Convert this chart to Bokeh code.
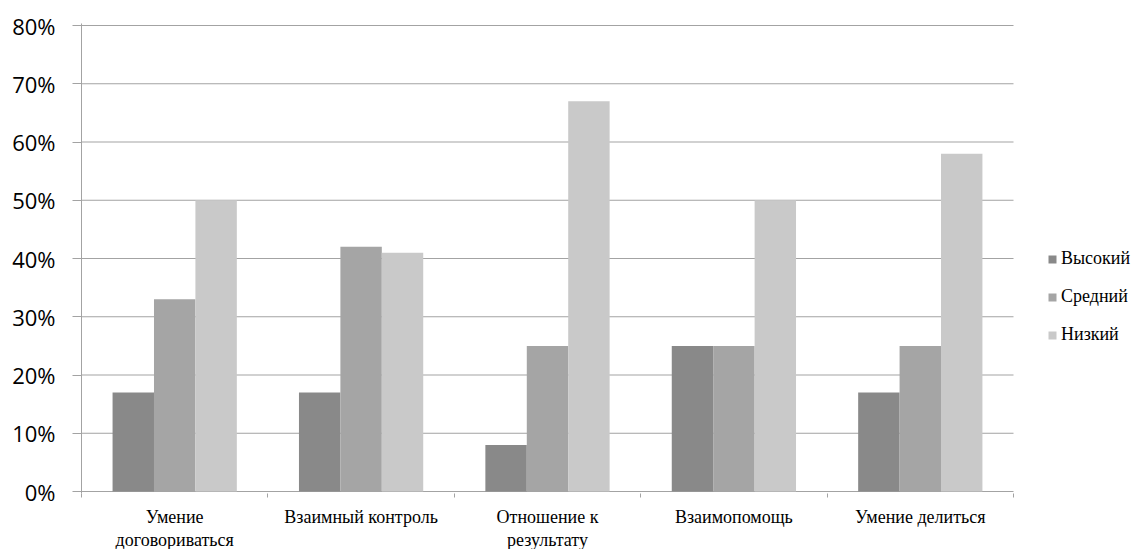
from bokeh.plotting import figure
from bokeh.models import Range1d, FixedTicker, NumeralTickFormatter, Legend, LegendItem, LinearAxis
from bokeh.embed import file_html
from bokeh.resources import INLINE

categories = ["Умение\nдоговориваться", "Взаимный контроль", "Отношение к\nрезультату",
              "Взаимопомощь", "Умение делиться"]
series_names = ["Высокий", "Средний", "Низкий"]
vysokiy = [0.17, 0.17, 0.08, 0.25, 0.17]
sredniy = [0.33, 0.42, 0.25, 0.25, 0.25]
nizkiy = [0.50, 0.41, 0.67, 0.50, 0.58]
y_ticks = [0.0, 0.1, 0.2, 0.3, 0.4, 0.5, 0.6, 0.7, 0.8]

colors = ["#898989", "#a5a5a5", "#c9c9c9"]
grid_color = "#a3a3a3"
SERIF = "Liberation Serif"

N = len(categories)
PLOT_W, PLOT_H = 932, 466          # visible plotting area (axes box)
FRAME_W, FRAME_H = 1058, 470       # bokeh frame (extends right to host legend)
PAD_PX = 2
y_max = y_ticks[-1]
pad = PAD_PX * y_max / PLOT_H

p = figure(frame_width=FRAME_W, frame_height=FRAME_H,
           x_range=Range1d(0, N * FRAME_W / PLOT_W), y_range=Range1d(-pad, y_max + pad),
           output_backend="svg", toolbar_location=None,
           min_border_left=81, min_border_right=0, min_border_top=23, min_border_bottom=56)
p.outline_line_color = None
p.background_fill_color = "white"
p.border_fill_color = "white"

# horizontal gridlines limited to the plotting area
p.segment(x0=[0] * len(y_ticks), x1=[N] * len(y_ticks), y0=y_ticks, y1=y_ticks,
          line_color=grid_color, line_width=1)

bar_w = 1.0 / 4.5
centers = [i + 0.5 for i in range(N)]
renderers = []
for k, vals in enumerate([vysokiy, sredniy, nizkiy]):
    xs = [c + (k - 1) * bar_w for c in centers]
    r = p.vbar(x=xs, top=vals, bottom=0, width=bar_w, fill_color=colors[k],
               line_color=None)
    renderers.append(r)

line1 = [lab.split("\n")[0] for lab in categories]
line2 = [lab.split("\n")[1] if "\n" in lab else "" for lab in categories]

# x axis: ticks at category boundaries, first line of labels
xa = p.xaxis[0]
xa.ticker = FixedTicker(ticks=centers, minor_ticks=list(range(N + 1)))
xa.major_label_overrides = {c: t for c, t in zip(centers, line1)}
xa.axis_line_color = None
xa.major_tick_out = 0
xa.major_tick_in = 0
xa.minor_tick_out = 4
xa.minor_tick_in = 0
xa.minor_tick_line_color = grid_color
xa.major_label_text_font = SERIF
xa.major_label_text_font_size = "18px"
xa.major_label_text_color = "#000000"
xa.major_label_standoff = 9

# second line of the category labels
xa2 = LinearAxis(ticker=FixedTicker(ticks=centers, minor_ticks=[]),
                 major_label_overrides={c: t for c, t in zip(centers, line2)},
                 axis_line_color=None, major_tick_line_color=None, minor_tick_line_color=None,
                 major_tick_out=0, major_tick_in=0, minor_tick_out=0, minor_tick_in=0,
                 major_label_text_font=SERIF, major_label_text_font_size="18px",
                 major_label_text_color="#000000", major_label_standoff=0)
p.add_layout(xa2, "below")

ya = p.yaxis[0]
ya.ticker = FixedTicker(ticks=y_ticks, minor_ticks=[])
ya.formatter = NumeralTickFormatter(format="0%")
ya.major_tick_out = 9
ya.major_tick_in = 0
ya.major_tick_line_color = grid_color
ya.axis_line_color = grid_color
ya.major_label_text_font = "Open Sans"
ya.major_label_text_font_size = "22px"
ya.major_label_text_color = "#000000"
ya.major_label_standoff = 17

p.xgrid.visible = False
p.ygrid.visible = False

legend = Legend(items=[LegendItem(label=n, renderers=[r]) for n, r in zip(series_names, renderers)],
                location=(966, 148), padding=0, margin=0, border_line_color=None,
                background_fill_alpha=0, glyph_width=10, glyph_height=10,
                label_standoff=4, label_height=20, spacing=17,
                label_text_font=SERIF, label_text_font_size="18px",
                label_text_color="#000000")
p.add_layout(legend)

open("out.html", "w").write(file_html(p, INLINE))
